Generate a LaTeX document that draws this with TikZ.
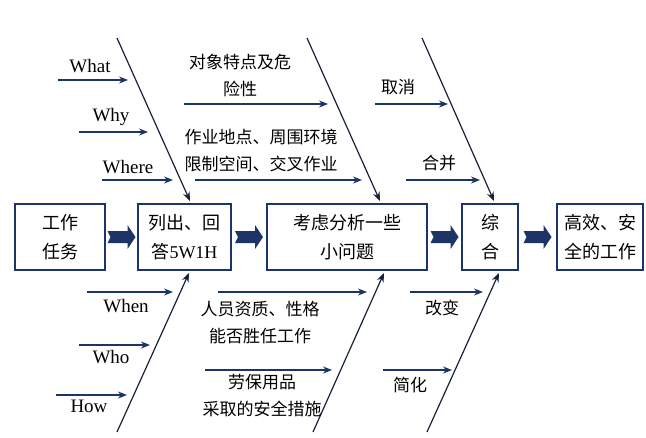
\documentclass[tikz,border=0pt]{standalone}
\usepackage{fontspec}
\setmainfont{Liberation Serif}
\newfontfamily\cjk{Noto Sans CJK SC}
\usetikzlibrary{arrows.meta,calc}
\definecolor{navy}{RGB}{28,52,102}
\definecolor{bonecol}{RGB}{22,34,60}

\begin{document}
\begin{tikzpicture}[x=1pt, y=-1pt, >={Stealth[length=9pt,width=7pt]},
    box/.style={draw=navy, line width=1.3pt, align=center, inner sep=0pt,
        font=\cjk\fontsize{18}{29}\selectfont},
    cjklbl/.style={align=center, inner sep=0pt, font=\cjk\fontsize{17}{27}\selectfont},
    englbl/.style={inner sep=0pt, font=\fontsize{19}{24}\selectfont},
    hand/.style={->, navy, line width=1.4pt},
    bone/.style={->, bonecol, line width=1.2pt}]
    \useasboundingbox[fill=white] (0,0) rectangle (646,437);

    % Caselle principali
    \node[box, minimum width=90, minimum height=66] (task) at (60,237) {工作\\任务};
    \node[box, minimum width=93, minimum height=66] (list) at (184.5,237) {列出、回\\答{\rmfamily 5W1H}};
    \node[box, minimum width=160, minimum height=66] (think) at (347,237) {考虑分析一些\\小问题};
    \node[box, minimum width=56, minimum height=66] (synth) at (490,237) {综\\合};
    \node[box, minimum width=86, minimum height=66] (result) at (600,237) {高效、安\\全的工作};

    % Frecce piene tra le caselle
    \foreach \a/\b in {task/list, list/think, think/synth, synth/result}
        \fill[navy] ($(\a.east)!0.5!(\b.west)$) ++(-14,-6) -- ++(20,0) -- ++(0,-6)
            -- ++(8,12) -- ++(-8,12) -- ++(0,-6) -- ++(-20,0) -- ++(3,-6) -- cycle;

    % Lische oblique
    \foreach \n/\xa/\ya/\xb/\yb in {ta/117/38/190/201, tb/307/38/380/201, tc/422/38/494/201,
            ba/117/432/189/273, bb/313/432/384/273, bc/427/432/499/273} {
        \coordinate (\n-s) at (\xa,\ya);
        \coordinate (\n-e) at (\xb,\yb);
        \draw[bone] (\n-s) -- (\n-e);
    }

    % Frecce orizzontali
    \foreach \n/\xa/\xb/\y in {what/58/128/80, why/79/148/132, where/102/173/180,
            obj/184/328/104, site/195/362/180, cancel/375/448/104, merge/406/480/180,
            when/87/173/292, who/79/150/345, how/56/127/395,
            staff/218/367/292, ppe/205/332/370, change/410/483/292, simple/383/452/370} {
        \coordinate (\n-s) at (\xa,\y);
        \coordinate (\n-e) at (\xb,\y);
        \draw[hand] (\n-s) -- (\n-e);
    }

    % Etichette
    \node[englbl] (lwhat) at (90,66) {What};
    \node[englbl] (lwhy) at (111,117) {Why};
    \node[englbl] (lwhere) at (128,167) {Where};
    \node[englbl] (lwhen) at (126,306) {When};
    \node[englbl] (lwho) at (111,357) {Who};
    \node[englbl] (lhow) at (89,406) {How};

    \node[cjklbl] (lobj) at (240,75) {对象特点及危\\险性};
    \node[cjklbl] (lsite) at (261,151) {作业地点、周围环境\\限制空间、交叉作业};
    \node[cjklbl] (lstaff) at (260,323) {人员资质、性格\\能否胜任工作};
    \node[cjklbl] (lppe) at (262,396) {劳保用品\\采取的安全措施};

    \node[cjklbl] (lcancel) at (398,87) {取消};
    \node[cjklbl] (lmerge) at (439,163) {合并};
    \node[cjklbl] (lchange) at (442,308) {改变};
    \node[cjklbl] (lsimple) at (410,385) {简化};
\end{tikzpicture}
\end{document}
